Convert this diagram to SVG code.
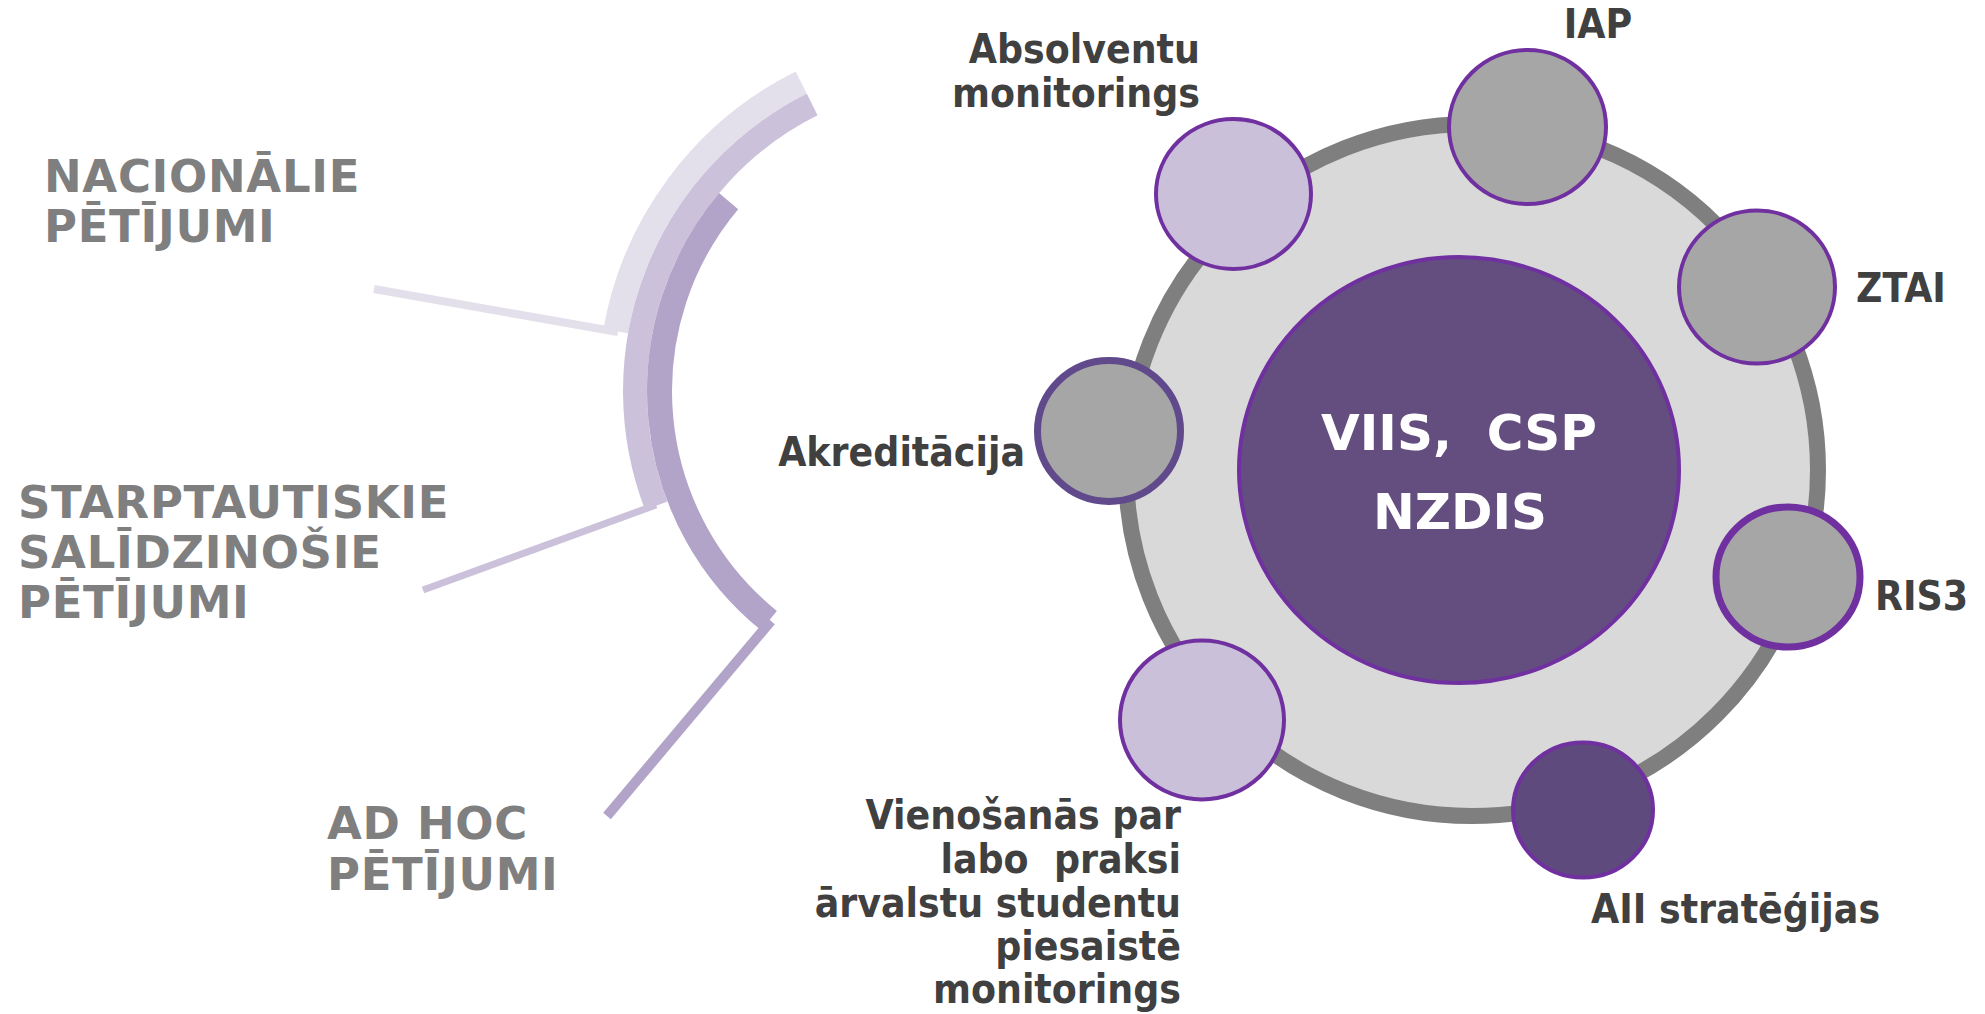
<svg xmlns="http://www.w3.org/2000/svg" width="1985" height="1014" viewBox="0 0 1985 1014">
<style>
.band{fill:none;stroke-linecap:butt}
.cat{font-family:"DejaVu Sans","Verdana",sans-serif;font-weight:bold;font-size:45px;letter-spacing:0.7px;fill:#7f7f7f}
.lbl{font-family:"DejaVu Sans Condensed","DejaVu Sans",sans-serif;font-stretch:condensed;font-weight:bold;font-size:40.5px;fill:#404040}
.core{font-family:"DejaVu Sans","Verdana",sans-serif;font-weight:bold;font-size:50px;fill:#ffffff;text-anchor:middle;white-space:pre}
.sat{stroke:#7030a0;stroke-width:4}
.lav{fill:#cbc0da}
.gry{fill:#a6a6a6}
</style>
<rect width="1985" height="1014" fill="#ffffff"/>
<g id="arcs">
<path class="band" d="M801.3,82.7 A344.5,344.5 0 0 0 615.7,331.2" stroke="#e3dfeb" stroke-width="25"/>
<path class="band" d="M812.2,104.6 A320,320 0 0 0 656.3,505.7" stroke="#cbc1da" stroke-width="24"/>
<path class="band" d="M728.6,201.1 A295.5,295.5 0 0 0 769,620.6" stroke="#b2a3c8" stroke-width="25"/>
</g>
<g id="connectors">
<line x1="374" y1="289" x2="618" y2="332" stroke="#e3dfeb" stroke-width="8"/>
<line x1="423" y1="590" x2="656" y2="505" stroke="#cbc1da" stroke-width="7"/>
<line x1="607" y1="816" x2="771" y2="621" stroke="#b2a3c8" stroke-width="10"/>
</g>
<g id="cat-nacionalie"><text class="cat" x="44" y="192">NACIONĀLIE</text><text class="cat" x="44" y="242">PĒTĪJUMI</text></g>
<g id="cat-starptautiskie"><text class="cat" x="18" y="518">STARPTAUTISKIE</text><text class="cat" x="18" y="568">SALĪDZINOŠIE</text><text class="cat" x="18" y="618">PĒTĪJUMI</text></g>
<g id="cat-adhoc"><text class="cat" x="327" y="839">AD HOC</text><text class="cat" x="327" y="890">PĒTĪJUMI</text></g>
<g id="ring"><circle cx="1472" cy="470" r="346" fill="#d9d9d9" stroke="#7f7f7f" stroke-width="16"/></g>
<g id="core">
<ellipse cx="1459" cy="470" rx="220" ry="213" fill="#634e7f" stroke="#7030a0" stroke-width="4"/>
<text class="core" x="1459" y="450" xml:space="preserve">VIIS,  CSP</text>
<text class="core" x="1460" y="529">NZDIS</text>
</g>
<g id="absolventu">
<ellipse class="lav sat" cx="1233.5" cy="194" rx="77.5" ry="75"/>
<text class="lbl" x="1200" y="63" text-anchor="end">Absolventu</text>
<text class="lbl" x="1200" y="107" text-anchor="end">monitorings</text>
</g>
<g id="iap">
<ellipse class="gry sat" cx="1527.5" cy="127" rx="78.5" ry="77"/>
<text class="lbl" x="1598" y="38" text-anchor="middle">IAP</text>
</g>
<g id="ztai">
<ellipse class="gry sat" cx="1757" cy="287" rx="78" ry="76.5"/>
<text class="lbl" x="1856" y="302">ZTAI</text>
</g>
<g id="akreditacija">
<ellipse class="gry" cx="1109" cy="431" rx="71.5" ry="70.5" stroke="#604a8c" stroke-width="7"/>
<text class="lbl" x="1025" y="466" text-anchor="end">Akreditācija</text>
</g>
<g id="ris3">
<ellipse class="gry" cx="1788" cy="577" rx="72" ry="70" stroke="#7030a0" stroke-width="7"/>
<text class="lbl" x="1875" y="610">RIS3</text>
</g>
<g id="vienosanas">
<ellipse class="lav sat" cx="1202" cy="720" rx="82" ry="79.5"/>
<text class="lbl" text-anchor="end"><tspan x="1181" y="829">Vienošanās par</tspan><tspan x="1181" y="873" xml:space="preserve">labo  praksi</tspan><tspan x="1181" y="917">ārvalstu studentu</tspan><tspan x="1181" y="960">piesaistē</tspan><tspan x="1181" y="1003">monitorings</tspan></text>
</g>
<g id="aii">
<ellipse class="sat" cx="1583" cy="810" rx="70" ry="67.5" fill="#5f4a7d"/>
<text class="lbl" x="1591" y="923">AII stratēģijas</text>
</g>
</svg>
